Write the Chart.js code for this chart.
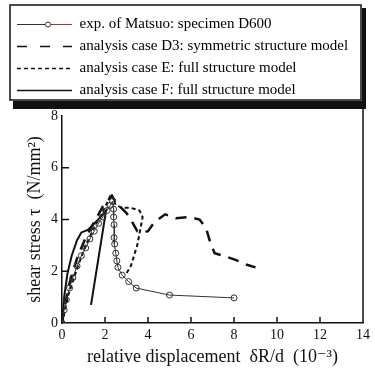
<!DOCTYPE html>
<html>
<head>
<meta charset="utf-8">
<script src="https://cdn.jsdelivr.net/npm/chart.js@4"></script>
<style>
  html, body { margin: 0; padding: 0; background: #fff; }
  #wrap { width: 375px; height: 368px; }
</style>
</head>
<body>
<div id="wrap"><canvas id="chart"></canvas></div>
<script>
// tick labels
const xTicks = [0, 2, 4, 6, 8, 10, 12, 14];
const yTicks = [0, 2, 4, 6, 8];

// exp. of Matsuo: specimen D600
const expX = [0, 0.1, 0.2, 0.35, 0.5, 0.7, 0.9, 1.1, 1.3, 1.5, 1.7, 1.9, 2.1, 2.25, 2.35, 2.4, 2.4, 2.42, 2.42, 2.45, 2.5, 2.55, 2.6, 2.8, 3.1, 3.45, 5.0, 8.0];
const expY = [0, 0.5, 0.9, 1.35, 1.75, 2.2, 2.6, 2.9, 3.25, 3.55, 3.85, 4.1, 4.35, 4.55, 4.7, 4.4, 4.1, 3.8, 3.3, 3.05, 2.7, 2.4, 2.15, 1.85, 1.6, 1.35, 1.08, 0.97];

// analysis case D3
const d3X = [0, 0.3, 0.7, 1.1, 1.5, 1.9, 2.3, 2.7, 3.0, 3.3, 3.5, 3.8, 4.0, 4.3, 4.8, 5.3, 5.9, 6.4, 6.7, 6.9, 7.1, 7.5, 8.1, 8.6, 9.0];
const d3Y = [0, 1.4, 2.5, 3.3, 3.9, 4.5, 4.9, 4.5, 4.25, 3.85, 3.55, 3.5, 3.55, 3.9, 4.2, 4.05, 4.1, 4.0, 3.67, 3.1, 2.7, 2.6, 2.43, 2.25, 2.15];

// analysis case E
const eX = [0, 0.3, 0.7, 1.1, 1.5, 1.9, 2.3, 2.5, 2.8, 3.2, 3.6, 3.75, 3.5, 3.2, 2.95];
const eY = [0, 1.1, 2.1, 3.0, 3.7, 4.3, 5.0, 4.55, 4.45, 4.45, 4.35, 4.1, 3.0, 2.2, 1.85];

// analysis case F
const fX = [0, 0.1, 0.25, 0.45, 0.7, 0.9, 1.2, 1.5, 1.8, 2.05, 1.35];
const fY = [0, 1.0, 1.9, 2.6, 3.2, 3.5, 3.6, 3.85, 4.1, 4.35, 0.7];

const serif = "'Liberation Serif', 'DejaVu Serif', serif";

function pts(xs, ys) {
  return xs.map((x, i) => ({ x: x, y: ys[i] }));
}

// white background, legend frame, inward ticks, right border
const decor = {
  id: "decor",
  beforeLayout(chart) {
    // leave a gap between the legend frame and the plot
    const lg = chart.legend;
    if (lg && !lg._tall) {
      const fit = lg.fit.bind(lg);
      lg.fit = function () {
        fit();
        this.height = 106;
      };
      lg._tall = true;
    }
  },
  beforeDraw(chart) {
    const c = chart.ctx;
    c.save();
    c.fillStyle = "#fff";
    c.fillRect(0, 0, chart.width, chart.height);
    c.restore();
  },
  afterDraw(chart) {
    const c = chart.ctx;
    const a = chart.chartArea;
    const xs = chart.scales.x;
    const ys = chart.scales.y;
    c.save();
    c.strokeStyle = "#111";
    c.lineWidth = 1.5;
    // right border
    c.beginPath();
    c.moveTo(a.right, 105);
    c.lineTo(a.right, a.bottom);
    c.stroke();
    // inward ticks
    xTicks.slice(1, -1).forEach((v) => {
      const px = xs.getPixelForValue(v);
      c.beginPath();
      c.moveTo(px, a.bottom);
      c.lineTo(px, a.bottom - 6);
      c.stroke();
    });
    yTicks.slice(1, -1).forEach((v) => {
      const py = ys.getPixelForValue(v);
      c.beginPath();
      c.moveTo(a.left, py);
      c.lineTo(a.left + 7, py);
      c.stroke();
    });
    // legend frame with shadow
    c.fillStyle = "#111";
    c.fillRect(13, 101, 353, 8);
    c.fillRect(362, 8, 4, 101);
    c.lineWidth = 1.5;
    c.strokeRect(10, 5, 351, 95);
    // circle on the first legend sample
    const hb = chart.legend.legendHitBoxes[0];
    if (hb) {
      const cy = hb.top + 7.5;
      c.strokeStyle = "#a33";
      c.lineWidth = 1;
      c.beginPath();
      c.moveTo(hb.left + 34, cy);
      c.lineTo(hb.left + 55, cy);
      c.stroke();
      c.fillStyle = "#fff";
      c.strokeStyle = "#333";
      c.beginPath();
      c.arc(hb.left + 31, cy, 2.5, 0, Math.PI * 2);
      c.fill();
      c.stroke();
    }
    c.restore();
  },
};

const ctx = document.getElementById("chart");

const myChart = new Chart(ctx, {
  type: "scatter",
  data: {
    datasets: [
      {
        label: "exp. of Matsuo: specimen D600",
        data: pts(expX, expY),
        showLine: true,
        borderColor: "#333",
        borderWidth: 1,
        pointRadius: 3,
        pointBorderWidth: 1,
        pointBackgroundColor: "rgba(255,255,255,0)",
        pointBorderColor: "#333",
      },
      {
        label: "analysis case D3: symmetric structure model",
        data: pts(d3X, d3Y),
        showLine: true,
        borderColor: "#111",
        borderWidth: 2.5,
        borderDash: [11, 8],
        pointRadius: 0,
      },
      {
        label: "analysis case E: full structure model",
        data: pts(eX, eY),
        showLine: true,
        borderColor: "#111",
        borderWidth: 2,
        borderDash: [4, 3],
        pointRadius: 0,
      },
      {
        label: "analysis case F: full structure model",
        data: pts(fX, fY),
        showLine: true,
        borderColor: "#111",
        borderWidth: 2,
        pointRadius: 0,
      },
    ],
  },
  options: {
    responsive: true,
    maintainAspectRatio: false,
    animation: false,
    layout: { padding: { left: 10, right: 12, top: 10, bottom: 0 } },
    plugins: {
      tooltip: { enabled: false },
      legend: {
        position: "top",
        align: "start",
        labels: {
          color: "#000",
          font: { family: serif, size: 15 },
          usePointStyle: true,
          pointStyleWidth: 55,
          padding: 7,
          generateLabels(chart) {
            return chart.data.datasets.map((ds, i) => ({
              text: ds.label,
              datasetIndex: i,
              pointStyle: "line",
              strokeStyle: ds.borderColor,
              fillStyle: ds.borderColor,
              lineWidth: Math.min(ds.borderWidth, 1.5),
              lineDash: i === 1 ? [10, 13] : ds.borderDash || [],
              fontColor: "#000",
            }));
          },
        },
      },
    },
    scales: {
      x: {
        type: "linear",
        min: 0,
        max: 14,
        afterBuildTicks(axis) {
          axis.ticks = xTicks.map((v) => ({ value: v }));
        },
        afterFit(axis) {
          axis.height = 45;
        },
        grid: { drawOnChartArea: false, drawTicks: false },
        border: { display: true, color: "#111", width: 1.5 },
        ticks: { color: "#111", font: { family: serif, size: 14 }, padding: 4 },
        title: {
          display: true,
          text: "relative displacement  δR/d  (10⁻³)",
          color: "#111",
          font: { family: serif, size: 18 },
          padding: { top: 0, bottom: 0 },
        },
      },
      y: {
        min: 0,
        max: 8,
        afterBuildTicks(axis) {
          axis.ticks = yTicks.map((v) => ({ value: v }));
        },
        afterFit(axis) {
          axis.width = 52;
        },
        grid: { drawOnChartArea: false, drawTicks: false },
        border: { display: true, color: "#111", width: 1.5 },
        ticks: { color: "#111", font: { family: serif, size: 14 }, padding: 4 },
        title: {
          display: true,
          text: "shear stress τ  (N/mm²)",
          color: "#111",
          font: { family: serif, size: 18 },
          padding: { top: 14, bottom: 0 },
        },
      },
    },
  },
  plugins: [decor],
});
</script>
</body>
</html>
